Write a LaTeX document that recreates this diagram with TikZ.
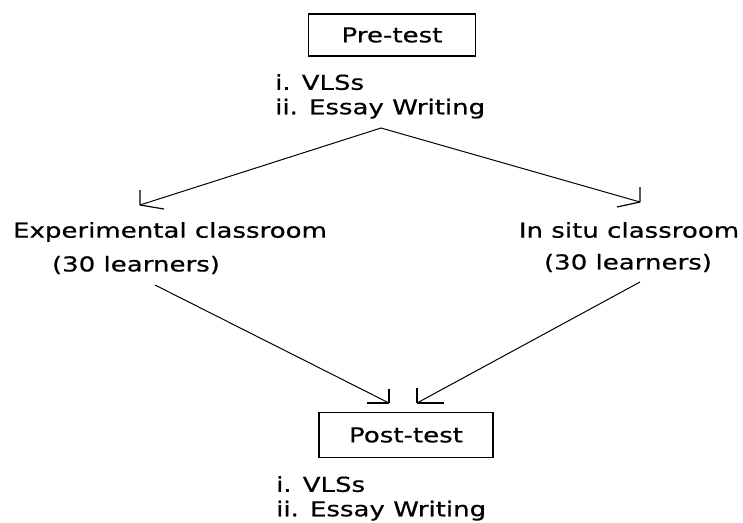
\documentclass[tikz,border=0pt]{standalone}
\usepackage{fontspec}
\setmainfont{DejaVu Sans}[FakeStretch=1.27,FakeBold=0.6]
\begin{document}
\begin{tikzpicture}[x=1pt,y=-1pt,
  txt/.style={inner sep=0pt,font=\fontsize{20.5}{24.5}\selectfont},
  boxed/.style={draw,line width=1.2pt,minimum width=167pt,minimum height=42pt,inner sep=0pt,font=\fontsize{20.5}{24}\selectfont},
  conn/.style={line width=1pt},
  wing/.style={line width=1.2pt}]
\useasboundingbox (0,0) rectangle (743,522);
\node[boxed] (pre) at (392,35) {Pre-test};
\node[txt,align=left,anchor=north west] (prelist) at (275,74) {i. VLSs\\ii. Essay Writing};
\coordinate (apex) at (381,128);
\coordinate (tl) at (140,205);
\coordinate (tr) at (640,202);
\node[txt] (exp) at (170,232) {Experimental classroom};
\node[txt] (expn) at (136,265) {(30 learners)};
\node[txt] (ins) at (629,230) {In situ classroom};
\node[txt] (insn) at (628,263) {(30 learners)};
\coordinate (el) at (155,285);
\coordinate (er) at (640,282);
\coordinate (pl) at (389,403);
\coordinate (pr) at (417,403);
\node[boxed,minimum width=174pt,minimum height=45pt] (post) at (406,435) {Post-test};
\node[txt,align=left,anchor=north west] (postlist) at (276,476) {i. VLSs\\ii. Essay Writing};
\draw[conn] (tl) -- (apex) -- (tr);
\draw[wing] (tl) -- ++(0,-15) (tl) -- ++(24,4);
\draw[wing] (tr) -- ++(0,-15) (tr) -- ++(-23,5);
\draw[conn] (el) -- (pl);
\draw[conn] (er) -- (pr);
\draw[wing] (pl) -- ++(0,-14) (pl) -- ++(-22,0);
\draw[wing] (pr) -- ++(0,-15) (pr) -- ++(27,0);
\end{tikzpicture}
\end{document}
